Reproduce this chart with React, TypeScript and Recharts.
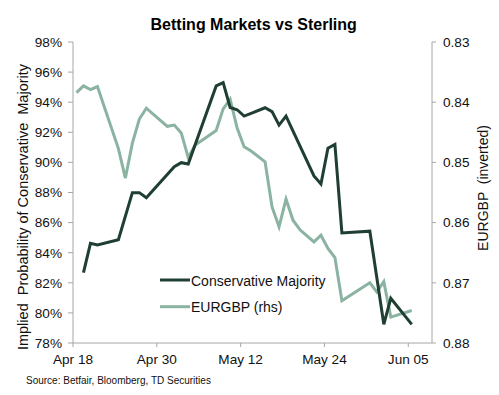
import React from "react";
import { LineChart, Line, XAxis, YAxis } from "recharts";

// Day offsets from Apr 18 (points sit mid-day on the date axis)
const consDays = [1.5, 2.5, 3.5, 6.5, 8.5, 9.5, 10.5, 14.5, 15.5, 16.5, 20.5, 21.5, 22.5, 23.5, 24.5, 25.5, 27.5, 28.5, 29.5, 30.5, 34.5, 35.5, 36.5, 37.5, 38.5, 42.5, 44.5, 45.5, 48.5];
const consValues = [82.67, 84.62, 84.51, 84.86, 87.99, 87.99, 87.65, 89.71, 89.98, 89.89, 95.08, 95.3, 93.65, 93.5, 93.08, 93.26, 93.63, 93.37, 92.48, 93.08, 89.1, 88.57, 90.94, 91.2, 85.31, 85.43, 79.24, 80.97, 79.24];

const eurDays = [0.5, 1.5, 2.5, 3.5, 6.5, 7.5, 8.5, 9.5, 10.5, 13.5, 14.5, 15.5, 16.5, 17.5, 20.5, 21.5, 22.5, 23.5, 24.5, 25.5, 27.5, 28.5, 29.5, 30.5, 31.5, 32.5, 34.5, 35.5, 36.5, 37.5, 38.5, 42.5, 43.5, 44.5, 45.5, 48.5];
const eurValues = [0.8384, 0.8373, 0.8379, 0.8374, 0.8477, 0.8526, 0.8468, 0.8428, 0.841, 0.844, 0.8438, 0.8451, 0.8492, 0.8471, 0.8447, 0.8411, 0.8395, 0.8443, 0.8474, 0.8481, 0.8499, 0.8574, 0.8607, 0.8561, 0.8596, 0.8612, 0.8632, 0.8621, 0.8643, 0.8658, 0.873, 0.87, 0.8715, 0.8698, 0.8757, 0.8746];

const xTicks = [0, 12, 24, 36, 48];
const xTickLabels = ["Apr 18", "Apr 30", "May 12", "May 24", "Jun 05"];
const leftTicks = [78, 80, 82, 84, 86, 88, 90, 92, 94, 96, 98];
const rightTicks = [0.83, 0.84, 0.85, 0.86, 0.87, 0.88];

const DARK = "#1f3f32";
const LIGHT = "#8bb3a1";
const AXIS = "#a6a6a6";
const FONT = "'Liberation Sans', Arial, Helvetica, sans-serif";

const allDays = Array.from(new Set([...consDays, ...eurDays])).sort((a, b) => a - b);
const data = allDays.map((day) => {
  const ci = consDays.indexOf(day);
  const ei = eurDays.indexOf(day);
  return {
    day,
    cons: ci >= 0 ? consValues[ci] : null,
    eur: ei >= 0 ? eurValues[ei] : null,
  };
});

const tickStyle = { fill: "#111", fontSize: 13.6, fontFamily: FONT };

export default function App() {
  return (
    <div style={{ position: "absolute", left: 0, top: 0, width: 499, height: 395, background: "#fff" }}>
      <LineChart width={499} height={395} data={data} margin={{ top: 42, right: 0, bottom: 0, left: 0 }}>
        <XAxis
          dataKey="day"
          type="number"
          domain={[0, 51.4]}
          ticks={xTicks}
          tickFormatter={(v: number) => xTickLabels[xTicks.indexOf(v)]}
          height={52}
          stroke={AXIS}
          tickSize={4}
          tickMargin={7}
          tick={tickStyle}
          allowDataOverflow
        />
        <YAxis
          yAxisId="left"
          orientation="left"
          domain={[78, 98]}
          ticks={leftTicks}
          tickFormatter={(v: number) => `${v}%`}
          width={73}
          stroke={AXIS}
          tickSize={5}
          tickMargin={6}
          tick={tickStyle}
          interval={0}
        />
        <YAxis
          yAxisId="right"
          orientation="right"
          domain={[0.83, 0.88]}
          reversed
          ticks={rightTicks}
          tickFormatter={(v: number) => v.toFixed(2)}
          width={67}
          stroke={AXIS}
          tickSize={4}
          tickMargin={7}
          tick={tickStyle}
          interval={0}
        />
        <Line yAxisId="right" dataKey="eur" stroke={LIGHT} strokeWidth={3} dot={false} connectNulls isAnimationActive={false} />
        <Line yAxisId="left" dataKey="cons" stroke={DARK} strokeWidth={3} dot={false} connectNulls isAnimationActive={false} />
      </LineChart>
      <svg width={499} height={395} style={{ position: "absolute", left: 0, top: 0, pointerEvents: "none" }} fontFamily={FONT}>
        <text x={253.7} y={30} textAnchor="middle" fontSize={16} fontWeight="bold" fill="#000">
          Betting Markets vs Sterling
        </text>
        <text transform="translate(23,207) rotate(-90)" textAnchor="middle" dominantBaseline="central" fontSize={14.5} fill="#111" style={{ whiteSpace: "pre" }}>
          {"Implied  Probability of Conservative  Majority"}
        </text>
        <text transform="translate(483,188) rotate(-90)" textAnchor="middle" dominantBaseline="central" fontSize={14} fill="#111" style={{ whiteSpace: "pre" }}>
          {"EURGBP  (inverted)"}
        </text>
        <line x1={160} y1={280} x2={190} y2={280} stroke={DARK} strokeWidth={3} />
        <text x={191} y={281} dominantBaseline="central" fontSize={14} fill="#111">Conservative Majority</text>
        <line x1={160} y1={306.7} x2={190} y2={306.7} stroke={LIGHT} strokeWidth={3} />
        <text x={191} y={307} dominantBaseline="central" fontSize={14} fill="#111">EURGBP (rhs)</text>
        <text x={26} y={380} dominantBaseline="central" fontSize={10} fill="#111">
          Source: Betfair, Bloomberg, TD Securities
        </text>
      </svg>
    </div>
  );
}
